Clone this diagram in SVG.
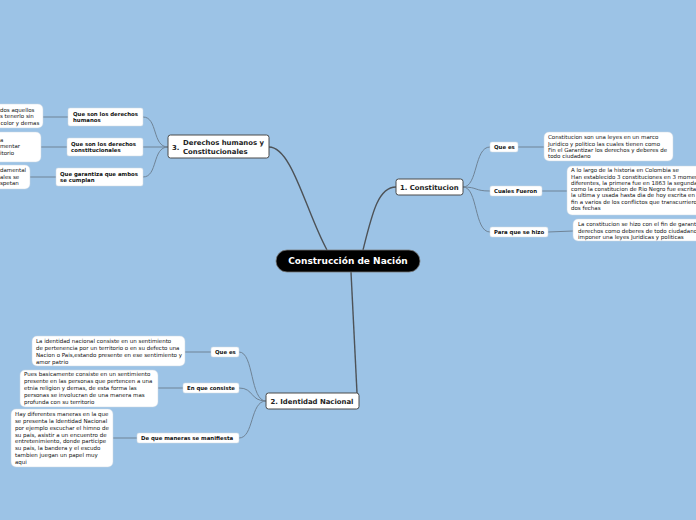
<svg xmlns="http://www.w3.org/2000/svg" width="696" height="520" viewBox="0 0 696 520">
<style>
text{font-family:"DejaVu Sans","Verdana",sans-serif;fill:#111}
.t{font-size:5.5px}
.s{font-size:5.4px;font-weight:bold}
.m{font-size:6.9px;font-weight:bold;fill:#222}
.c{font-size:9px;font-weight:bold;fill:#fff}
.box{fill:#fff;stroke:#c8d4e0;stroke-width:0.5}
.sub{fill:#fff;stroke:#d0d8e0;stroke-width:0.5}
.main{fill:#fff;stroke:#4a4a4a;stroke-width:1}
.l0{fill:none;stroke:#4d5257;stroke-width:1.4}
.l1{fill:none;stroke:#6f8396;stroke-width:1}
</style>
<rect width="696" height="520" fill="#9cc3e6"/>
<g id="connectors">
<path class="l0" d="M269,147 C292,147 306,212 327,250"/>
<path class="l0" d="M363,250 C372,214 378,187 396,187"/>
<path class="l0" d="M351,272 C353,320 355,360 357,393"/>
<path class="l1" d="M463,187 C478,187 474,147 490,147"/>
<path class="l1" d="M463,187 C478,187 474,191 490,191"/>
<path class="l1" d="M463,187 C478,187 474,232 490,232"/>
<path class="l1" d="M518,147 L544,147"/>
<path class="l1" d="M542,191 L567,191"/>
<path class="l1" d="M548,232 L573,231"/>
<path class="l1" d="M168,147 C152,147 158,117 143,117"/>
<path class="l1" d="M168,147 L143,147"/>
<path class="l1" d="M168,147 C152,147 158,177 143,177"/>
<path class="l1" d="M68,117 L43,117"/>
<path class="l1" d="M67,147 L41,147"/>
<path class="l1" d="M56,177 L30,177"/>
<path class="l1" d="M266,401 C250,401 254,352 239,352"/>
<path class="l1" d="M266,401 C250,401 254,388 239,388"/>
<path class="l1" d="M266,401 C250,401 254,438 239,438"/>
<path class="l1" d="M211,352 L185,352"/>
<path class="l1" d="M183,388 L158,388"/>
<path class="l1" d="M137,438 L113,438"/>
</g>
<g id="center">
<rect x="276" y="250" width="144" height="22" rx="11" fill="#000" stroke="#777" stroke-width="0.8"/>
<text class="c" x="348" y="264.2" text-anchor="middle">Construcción de Nación</text>
</g>
<g id="n1">
<rect class="main" x="396" y="179" width="67" height="16" rx="2.5"/>
<text class="m" x="400" y="189.6">1. Constitucion</text>
</g>
<g id="n1a">
<rect class="sub" x="490" y="142" width="28" height="10" rx="2"/>
<text class="s" x="494" y="148.9">Que es</text>
</g>
<g id="n1b">
<rect class="sub" x="490" y="186" width="52" height="10" rx="2"/>
<text class="s" x="494" y="192.9">Cuales Fueron</text>
</g>
<g id="n1c">
<rect class="sub" x="490" y="227" width="58" height="10" rx="2"/>
<text class="s" x="494" y="233.9">Para que se hizo</text>
</g>
<g id="n1a-t">
<rect class="box" x="544" y="132" width="129" height="29" rx="5"/>
<text class="t" x="548" y="139.2">Constitucion son una leyes en un marco</text>
<text class="t" x="548" y="145.5">Juridico y politico las cuales tienen como</text>
<text class="t" x="548" y="151.8">Fin el Garantizar los derechos y deberes de</text>
<text class="t" x="548" y="158.1">todo ciudadano</text>
</g>
<g id="n1b-t">
<rect class="box" x="567" y="166" width="140" height="49" rx="5"/>
<text class="t" x="571" y="172.2">A lo largo de la historia en Colombia se</text>
<text class="t" x="571" y="178.5">Han establecido 3 constituciones en 3 momentos</text>
<text class="t" x="571" y="184.8">diferentes, la primera fue en 1863 la segunda</text>
<text class="t" x="571" y="191.1">como la constitucion de Rio Negro fue escrita</text>
<text class="t" x="571" y="197.4">la ultima y usada hasta dia de hoy escrita en</text>
<text class="t" x="571" y="203.7">fin a varios de los conflictos que transcurrieron</text>
<text class="t" x="571" y="210">dos fechas</text>
</g>
<g id="n1c-t">
<rect class="box" x="573" y="219" width="130" height="22" rx="5"/>
<text class="t" x="578" y="226.2">La constitucion se hizo con el fin de garantizar</text>
<text class="t" x="578" y="232.5">derechos como deberes de todo ciudadano</text>
<text class="t" x="578" y="238.8">imponer una leyes Juridicas y politicas</text>
</g>
<g id="n3">
<rect class="main" x="168" y="135" width="101" height="23" rx="2.5"/>
<text class="m" x="172" y="149.6">3.</text>
<text class="m" x="183" y="145.2">Derechos humanos y</text>
<text class="m" x="183" y="154.2">Constitucionales</text>
</g>
<g id="n3a">
<rect class="sub" x="68" y="108" width="75" height="18" rx="2"/>
<text class="s" x="73" y="115.9">Que son los derechos</text>
<text class="s" x="73" y="122.1">humanos</text>
</g>
<g id="n3b">
<rect class="sub" x="67" y="138" width="76" height="18" rx="2"/>
<text class="s" x="71" y="145.6">Que son los derechos</text>
<text class="s" x="71" y="151.9">constitucionales</text>
</g>
<g id="n3c">
<rect class="sub" x="56" y="168" width="87" height="18" rx="2"/>
<text class="s" x="60" y="175.9">Que garantiza que ambos</text>
<text class="s" x="60" y="182.1">se cumplan</text>
</g>
<g id="n3a-t">
<rect class="box" x="-10" y="104" width="53" height="24" rx="5"/>
<text class="t" x="0" y="111.9">dos aquellos</text>
<text class="t" x="0" y="118.2">s tenerlo sin</text>
<text class="t" x="0.5" y="124.5">color y demas</text>
</g>
<g id="n3b-t">
<rect class="box" x="-10" y="132" width="51" height="30" rx="5"/>
<text class="t" x="0" y="142.1">a</text>
<text class="t" x="0" y="148.4">mentar</text>
<text class="t" x="0" y="154.7">itorio</text>
</g>
<g id="n3c-t">
<rect class="box" x="-10" y="165" width="40" height="24" rx="5"/>
<text class="t" x="0" y="172.4">damental</text>
<text class="t" x="0" y="178.7">ales se</text>
<text class="t" x="0" y="185">spetan</text>
</g>
<g id="n2">
<rect class="main" x="266" y="393" width="93" height="16" rx="2.5"/>
<text class="m" x="270.5" y="403.6">2. Identidad Nacional</text>
</g>
<g id="n2a">
<rect class="sub" x="211" y="347" width="28" height="10" rx="2"/>
<text class="s" x="215" y="353.9">Que es</text>
</g>
<g id="n2b">
<rect class="sub" x="183" y="383" width="56" height="10" rx="2"/>
<text class="s" x="187" y="389.9">En que consiste</text>
</g>
<g id="n2c">
<rect class="sub" x="137" y="433" width="102" height="10" rx="2"/>
<text class="s" x="141" y="439.9">De que maneras se manifiesta</text>
</g>
<g id="n2a-t">
<rect class="box" x="32" y="336" width="153" height="30" rx="5"/>
<text class="t" x="36" y="343.2">La identidad nacional consiste en un sentimiento</text>
<text class="t" x="36" y="350">de pertenencia por un territorio o en su defecto una</text>
<text class="t" x="36" y="356.8">Nacion o Pais,estando presente en ese sentimiento y</text>
<text class="t" x="36" y="363.6">amor patrio</text>
</g>
<g id="n2b-t">
<rect class="box" x="20" y="370" width="138" height="37" rx="5"/>
<text class="t" x="24" y="376.4">Pues basicamente consiste en un sentimiento</text>
<text class="t" x="24" y="383.2">presente en las personas que pertencen a una</text>
<text class="t" x="24" y="390">etnia religion y demas, de esta forma las</text>
<text class="t" x="24" y="396.8">personas se involucran de una manera mas</text>
<text class="t" x="24" y="403.6">profunda con su territorio</text>
</g>
<g id="n2c-t">
<rect class="box" x="11" y="409" width="102" height="58" rx="5"/>
<text class="t" x="15" y="416.2">Hay diferentes maneras en la que</text>
<text class="t" x="15" y="423">se presenta la Identidad Nacional</text>
<text class="t" x="15" y="429.8">por ejemplo escuchar el himno de</text>
<text class="t" x="15" y="436.6">su pais, asistir a un encuentro de</text>
<text class="t" x="15" y="443.4">entretenimiento, donde participe</text>
<text class="t" x="15" y="450.2">su pais, la bandera y el escudo</text>
<text class="t" x="15" y="457">tambien juegan un papel muy</text>
<text class="t" x="15" y="463.8">aqui</text>
</g>
</svg>
